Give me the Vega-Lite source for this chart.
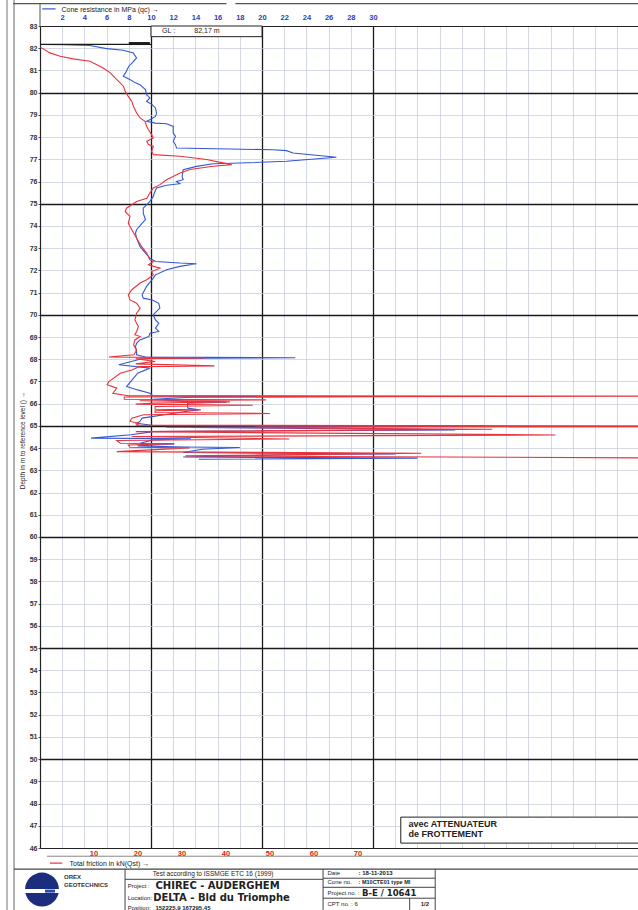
{
"$schema": "https://vega.github.io/schema/vega-lite/v6.json",
"usermeta": {"embedOptions": {"actions": false}},
"autosize": {"type": "none"},
"padding": {"left": 40, "top": 26, "right": 0, "bottom": 62},
"width": 598,
"height": 822,
"background": "white",
"config": {"view": {"stroke": null}, "font": "Liberation Sans",
"axis": {"labelOverlap": false},
"axisLeft": {"tickCount": 50, "labelOverlap": false},
"axisTop": {"tickCount": 40, "labelOverlap": false}},
"datasets": {
"cone": [
{"depth":82.17,"qc":0},{"depth":82.16,"qc":2},{"depth":82.12,"qc":4.5},{"depth":81.98,"qc":6},{"depth":81.91,"qc":7.5},{"depth":81.79,"qc":8.4},{"depth":81.56,"qc":8.7},{"depth":81.34,"qc":8.3},{"depth":81.19,"qc":8},{"depth":80.89,"qc":7.7},{"depth":80.74,"qc":7.5},{"depth":80.59,"qc":8.1},{"depth":80.44,"qc":8.6},{"depth":80.36,"qc":9},{"depth":80.14,"qc":9.5},{"depth":79.91,"qc":9.6},{"depth":79.76,"qc":9.9},{"depth":79.61,"qc":9.6},{"depth":79.46,"qc":10.1},{"depth":79.31,"qc":10.4},{"depth":79.08,"qc":10.5},{"depth":78.93,"qc":10.4},{"depth":78.78,"qc":9.9},{"depth":78.71,"qc":9.6},{"depth":78.63,"qc":10.4},{"depth":78.6,"qc":11.4},{"depth":78.48,"qc":12},{"depth":78.18,"qc":12},{"depth":78.03,"qc":12.2},{"depth":77.81,"qc":12},{"depth":77.66,"qc":12.2},{"depth":77.51,"qc":12.3},{"depth":77.43,"qc":21},{"depth":77.39,"qc":22.2},{"depth":77.28,"qc":22.8},{"depth":77.09,"qc":26.7},{"depth":76.91,"qc":22.2},{"depth":76.83,"qc":18},{"depth":76.8,"qc":15.6},{"depth":76.68,"qc":14.1},{"depth":76.53,"qc":12.9},{"depth":76.23,"qc":12.8},{"depth":76.08,"qc":12.9},{"depth":76.0,"qc":12.3},{"depth":75.9,"qc":12.6},{"depth":75.83,"qc":11.4},{"depth":75.71,"qc":10.5},{"depth":75.48,"qc":10.3},{"depth":75.33,"qc":10.2},{"depth":75.1,"qc":9.9},{"depth":74.95,"qc":9.6},{"depth":74.8,"qc":9.3},{"depth":74.58,"qc":9.3},{"depth":74.28,"qc":9.5},{"depth":74.13,"qc":9.2},{"depth":73.83,"qc":8.7},{"depth":73.68,"qc":8.6},{"depth":73.45,"qc":8.7},{"depth":73.08,"qc":9},{"depth":72.78,"qc":9.5},{"depth":72.55,"qc":9.9},{"depth":72.4,"qc":10.4},{"depth":72.33,"qc":12.6},{"depth":72.3,"qc":14.1},{"depth":72.18,"qc":12.6},{"depth":72.03,"qc":11.4},{"depth":71.8,"qc":10.4},{"depth":71.65,"qc":10.2},{"depth":71.58,"qc":10.1},{"depth":71.28,"qc":9.6},{"depth":70.9,"qc":9.2},{"depth":70.75,"qc":9.3},{"depth":70.67,"qc":10.1},{"depth":70.52,"qc":10.7},{"depth":70.3,"qc":10.8},{"depth":70.15,"qc":10.5},{"depth":70.0,"qc":10.2},{"depth":69.77,"qc":10.4},{"depth":69.62,"qc":10.7},{"depth":69.4,"qc":10.4},{"depth":69.25,"qc":10.7},{"depth":69.17,"qc":9.9},{"depth":69.02,"qc":9.8},{"depth":68.87,"qc":9},{"depth":68.72,"qc":8.7},{"depth":68.57,"qc":8.6},{"depth":68.35,"qc":8.7},{"depth":68.2,"qc":8.7},{"depth":68.1,"qc":9.5},{"depth":68.07,"qc":23},{"depth":68.04,"qc":10.2},{"depth":68.0,"qc":9},{"depth":67.75,"qc":7.1},{"depth":67.6,"qc":9.9},{"depth":67.37,"qc":8.8},{"depth":66.77,"qc":7.8},{"depth":66.62,"qc":8.8},{"depth":66.47,"qc":9.9},{"depth":66.35,"qc":10.2},{"depth":66.32,"qc":28.9},{"depth":66.29,"qc":13.6},{"depth":66.2,"qc":10.2},{"depth":66.1,"qc":13.3},{"depth":66.07,"qc":16.8},{"depth":66.02,"qc":13.3},{"depth":65.8,"qc":13.3},{"depth":65.72,"qc":14.3},{"depth":65.65,"qc":13.1},{"depth":65.35,"qc":9.2},{"depth":65.2,"qc":9},{"depth":65.12,"qc":8.7},{"depth":65.02,"qc":10.2},{"depth":64.99,"qc":40.1},{"depth":64.93,"qc":13.6},{"depth":64.82,"qc":37.4},{"depth":64.74,"qc":10.2},{"depth":64.6,"qc":8.2},{"depth":64.45,"qc":4.6},{"depth":64.42,"qc":13.6},{"depth":64.37,"qc":10.2},{"depth":64.22,"qc":9},{"depth":64.19,"qc":12.1},{"depth":64.1,"qc":8.8},{"depth":64.05,"qc":12.9},{"depth":64.03,"qc":18},{"depth":63.95,"qc":14.6},{"depth":63.8,"qc":12.9},{"depth":63.77,"qc":20.9},{"depth":63.74,"qc":32},{"depth":63.69,"qc":21.1},{"depth":63.6,"qc":12.9},{"depth":63.55,"qc":34},{"depth":63.5,"qc":14.3}
],
"friction": [
{"depth":82.05,"fr":-2.1},{"depth":81.79,"fr":0.1},{"depth":81.64,"fr":2.4},{"depth":81.52,"fr":5.4},{"depth":81.41,"fr":9.2},{"depth":81.11,"fr":12.2},{"depth":80.89,"fr":13.8},{"depth":80.59,"fr":15.3},{"depth":80.29,"fr":16.8},{"depth":80.06,"fr":17.2},{"depth":79.83,"fr":17.9},{"depth":79.61,"fr":18.7},{"depth":79.38,"fr":19.1},{"depth":79.08,"fr":19.8},{"depth":78.86,"fr":20.6},{"depth":78.71,"fr":21.7},{"depth":78.48,"fr":22.1},{"depth":78.33,"fr":22.5},{"depth":78.11,"fr":23.2},{"depth":77.96,"fr":23.6},{"depth":77.81,"fr":22.1},{"depth":77.66,"fr":22.5},{"depth":77.58,"fr":23.6},{"depth":77.36,"fr":23.2},{"depth":77.21,"fr":23.6},{"depth":77.14,"fr":29.7},{"depth":76.99,"fr":35.7},{"depth":76.86,"fr":38.8},{"depth":76.76,"fr":41.4},{"depth":76.69,"fr":37.2},{"depth":76.54,"fr":31.9},{"depth":76.38,"fr":29.7},{"depth":76.23,"fr":28.1},{"depth":76.08,"fr":26.6},{"depth":75.86,"fr":25.1},{"depth":75.71,"fr":23.6},{"depth":75.48,"fr":22.8},{"depth":75.25,"fr":22.1},{"depth":75.1,"fr":19.8},{"depth":74.8,"fr":17.5},{"depth":74.65,"fr":17.2},{"depth":74.43,"fr":18.3},{"depth":74.13,"fr":17.9},{"depth":73.83,"fr":18.7},{"depth":73.45,"fr":19.8},{"depth":73.08,"fr":20.9},{"depth":72.78,"fr":22.1},{"depth":72.48,"fr":22.8},{"depth":72.4,"fr":23.6},{"depth":72.25,"fr":22.5},{"depth":72.1,"fr":25.1},{"depth":71.95,"fr":23.2},{"depth":71.8,"fr":23.6},{"depth":71.58,"fr":22.1},{"depth":71.43,"fr":20.6},{"depth":71.13,"fr":18.7},{"depth":70.9,"fr":17.9},{"depth":70.67,"fr":18.3},{"depth":70.52,"fr":19.8},{"depth":70.3,"fr":20.6},{"depth":70.07,"fr":19.8},{"depth":69.77,"fr":19.4},{"depth":69.47,"fr":20.2},{"depth":69.25,"fr":19.8},{"depth":69.1,"fr":19.4},{"depth":69.02,"fr":20.6},{"depth":68.87,"fr":19.4},{"depth":68.65,"fr":19.1},{"depth":68.42,"fr":19.8},{"depth":68.2,"fr":19.2},{"depth":68.1,"fr":13.5},{"depth":68.06,"fr":35.3},{"depth":68.02,"fr":19.6},{"depth":67.9,"fr":24},{"depth":67.79,"fr":19.6},{"depth":67.7,"fr":37.5},{"depth":67.67,"fr":20.5},{"depth":67.52,"fr":18.7},{"depth":67.37,"fr":16.1},{"depth":66.99,"fr":13.5},{"depth":66.85,"fr":13.1},{"depth":66.7,"fr":15.3},{"depth":66.47,"fr":14.4},{"depth":66.36,"fr":17.9},{"depth":66.34,"fr":160},{"depth":66.3,"fr":17},{"depth":66.2,"fr":17},{"depth":66.17,"fr":49.2},{"depth":66.13,"fr":20.5},{"depth":66.08,"fr":41},{"depth":66.03,"fr":24},{"depth":65.98,"fr":19.6},{"depth":65.93,"fr":46.2},{"depth":65.87,"fr":24},{"depth":65.75,"fr":24},{"depth":65.72,"fr":34.4},{"depth":65.68,"fr":24},{"depth":65.6,"fr":24},{"depth":65.56,"fr":50.1},{"depth":65.5,"fr":21.4},{"depth":65.35,"fr":18.7},{"depth":65.2,"fr":18.3},{"depth":65.12,"fr":20.5},{"depth":65.03,"fr":19.6},{"depth":64.99,"fr":160},{"depth":64.94,"fr":26.6},{"depth":64.85,"fr":100.6},{"depth":64.74,"fr":19.6},{"depth":64.59,"fr":115},{"depth":64.52,"fr":18.7},{"depth":64.41,"fr":54.5},{"depth":64.34,"fr":15.3},{"depth":64.22,"fr":16.1},{"depth":64.2,"fr":28.3},{"depth":64.14,"fr":17.9},{"depth":64.04,"fr":18.3},{"depth":64.01,"fr":31.8},{"depth":63.84,"fr":15.3},{"depth":63.77,"fr":84.5},{"depth":63.65,"fr":30.9},{"depth":63.54,"fr":160}
]
},
"layer": [
{
"layer": [
{
"data": {"name": "cone"},
"mark": {"type": "line", "color": "#3358d4", "strokeWidth": 1.1, "clip": true},
"encoding": {
"x": {"field": "qc", "type": "quantitative", "scale": {"domain": [0, 53.87], "nice": false, "zero": false},
"axis": {"orient": "top", "values": [0,2,4,6,8,10,12,14,16,18,20,22,24,26,28,30,32,34,36,38,40,42,44,46,48,50,52], "tickCount": 40,
"labelExpr": "datum.value > 0 && datum.value <= 30 ? datum.label : ''",
"grid": true,
"gridColor": {"condition": {"test": "datum.value === 10 || datum.value === 20 || datum.value === 30", "value": "#1a1a1a"}, "value": "#c3c7da"},
"gridWidth": {"condition": {"test": "datum.value === 10 || datum.value === 20 || datum.value === 30", "value": 1.3}, "value": 0.7},
"ticks": false, "tickSize": 0, "domain": true, "domainColor": "#222", "domainWidth": 1.2,
"labelColor": "#2a3fb0", "labelFontSize": 7.5, "labelFontWeight": "bold", "labelPadding": 5, "labelOverlap": false, "labelFlush": false,
"title": "Cone resistance in MPa (qc)  \u2192", "titleFontSize": 7, "titleFontWeight": "normal", "titleColor": "#222",
"titleAlign": "left", "titleBaseline": "middle", "titleX": 21, "titleY": -17}},
"y": {"field": "depth", "type": "quantitative", "scale": {"domain": [46, 83], "nice": false, "zero": false},
"axis": {"orient": "left", "values": [46,47,48,49,50,51,52,53,54,55,56,57,58,59,60,61,62,63,64,65,66,67,68,69,70,71,72,73,74,75,76,77,78,79,80,81,82,83], "tickCount": 50,
"format": "d", "grid": true,
"gridColor": {"condition": {"test": "datum.value % 5 === 0", "value": "#1a1a1a"}, "value": "#c3c7da"},
"gridWidth": {"condition": {"test": "datum.value % 5 === 0", "value": 1.3}, "value": 0.7},
"ticks": true, "tickSize": 2, "tickColor": "#555", "domain": true, "domainColor": "#222", "domainWidth": 1.2,
"labelColor": "#333", "labelFontSize": 7, "labelFontWeight": "bold", "labelPadding": 1, "labelOverlap": false,
"title": "Depth in m to reference level ()   \u2192", "titleFontSize": 6.5, "titleFontWeight": "normal", "titleColor": "#222",
"titleAngle": -90, "titleAlign": "center", "titleBaseline": "middle", "titleX": -18, "titleY": 414}},
"order": {"field": "depth", "sort": "descending"}
}
},
{"data": {"values": [{}]}, "mark": {"type": "rect", "fill": "white", "stroke": "#222", "strokeWidth": 1},
"encoding": {"x": {"datum": 10, "type": "quantitative"}, "x2": {"datum": 20}, "y": {"datum": 83, "type": "quantitative"}, "y2": {"datum": 82.52}}},
{"data": {"values": [{}]}, "mark": {"type": "text", "text": "GL :", "align": "left", "baseline": "middle", "fontSize": 7, "color": "#222"},
"encoding": {"x": {"datum": 11.0, "type": "quantitative"}, "y": {"datum": 82.76, "type": "quantitative"}}},
{"data": {"values": [{}]}, "mark": {"type": "text", "text": "82,17   m", "align": "left", "baseline": "middle", "fontSize": 7, "color": "#222"},
"encoding": {"x": {"datum": 13.9, "type": "quantitative"}, "y": {"datum": 82.76, "type": "quantitative"}}},
{"data": {"values": [{}]}, "mark": {"type": "rule", "color": "#1a1a1a", "strokeWidth": 1.3},
"encoding": {"x": {"datum": 0, "type": "quantitative"}, "x2": {"datum": 10}, "y": {"datum": 82.17, "type": "quantitative"}}},
{"data": {"values": [{}]}, "mark": {"type": "rule", "color": "#1a1a1a", "strokeWidth": 3},
"encoding": {"x": {"datum": 8.0, "type": "quantitative"}, "x2": {"datum": 9.9}, "y": {"datum": 82.21, "type": "quantitative"}}},
{"data": {"values": [{}]}, "mark": {"type": "rect", "fill": "white", "stroke": "#222", "strokeWidth": 1},
"encoding": {"x": {"datum": 32.5, "type": "quantitative"}, "x2": {"datum": 56}, "y": {"datum": 47.39, "type": "quantitative"}, "y2": {"datum": 46.22}}},
{"data": {"values": [{}]}, "mark": {"type": "text", "text": "avec ATTENUATEUR", "align": "left", "baseline": "middle", "fontSize": 9, "fontWeight": "bold", "color": "#222"},
"encoding": {"x": {"datum": 33.2, "type": "quantitative"}, "y": {"datum": 47.07, "type": "quantitative"}}},
{"data": {"values": [{}]}, "mark": {"type": "text", "text": "de FROTTEMENT", "align": "left", "baseline": "middle", "fontSize": 9, "fontWeight": "bold", "color": "#222"},
"encoding": {"x": {"datum": 33.2, "type": "quantitative"}, "y": {"datum": 46.61, "type": "quantitative"}}},
{"data": {"values": [{}]}, "mark": {"type": "rule", "color": "#3358d4", "strokeWidth": 1.2},
"encoding": {"x": {"datum": 0.2, "type": "quantitative"}, "x2": {"datum": 1.4}, "y": {"datum": 83.77, "type": "quantitative"}}},
{"data": {"values": [{}]}, "mark": {"type": "rule", "color": "#e8323c", "strokeWidth": 1.2},
"encoding": {"x": {"datum": 0.9, "type": "quantitative"}, "x2": {"datum": 2.0}, "y": {"datum": 45.32, "type": "quantitative"}}},
{"data": {"values": [{}]}, "mark": {"type": "rule", "color": "#888", "strokeWidth": 1},
"encoding": {"x": {"datum": 0.63, "type": "quantitative"}, "x2": {"datum": 53.87}, "y": {"datum": 45.63, "type": "quantitative"}}},
{"data": {"values": [{}]}, "mark": {"type": "rule", "color": "#555", "strokeWidth": 1},
"encoding": {"x": {"datum": 0, "type": "quantitative"}, "y": {"datum": 84.01, "type": "quantitative"}, "y2": {"datum": 83}}},
{"data": {"values": [{}]}, "mark": {"type": "rule", "color": "#555", "strokeWidth": 1.2},
"encoding": {"x": {"datum": -2.43, "type": "quantitative"}, "x2": {"datum": 16.8}, "y": {"datum": 84.01, "type": "quantitative"}}},
{"data": {"values": [{}]}, "mark": {"type": "rule", "color": "#555", "strokeWidth": 1.2},
"encoding": {"x": {"datum": 17.6, "type": "quantitative"}, "x2": {"datum": 53.87}, "y": {"datum": 84.01, "type": "quantitative"}}},
{"data": {"values": [{}]}, "mark": {"type": "rule", "color": "#777", "strokeWidth": 1},
"encoding": {"x": {"datum": -2.97, "type": "quantitative"}, "y": {"datum": 84.19, "type": "quantitative"}, "y2": {"datum": 43.2}}},
{"data": {"values": [{}]}, "mark": {"type": "rule", "color": "#666", "strokeWidth": 1},
"encoding": {"x": {"datum": -2.34, "type": "quantitative"}, "y": {"datum": 84.19, "type": "quantitative"}, "y2": {"datum": 43.2}}},
{"data": {"values": [{}]}, "mark": {"type": "rule", "color": "#444", "strokeWidth": 1.2},
"encoding": {"x": {"datum": -2.34, "type": "quantitative"}, "x2": {"datum": 53.87}, "y": {"datum": 45.05, "type": "quantitative"}}},
{"data": {"values": [{}]}, "mark": {"type": "rule", "color": "#444", "strokeWidth": 1},
"encoding": {"x": {"datum": 7.66, "type": "quantitative"}, "y": {"datum": 45.05, "type": "quantitative"}, "y2": {"datum": 43.2}}},
{"data": {"values": [{}]}, "mark": {"type": "rule", "color": "#444", "strokeWidth": 1},
"encoding": {"x": {"datum": 7.66, "type": "quantitative"}, "x2": {"datum": 25.5}, "y": {"datum": 44.59, "type": "quantitative"}}},
{"data": {"values": [{}]}, "mark": {"type": "rule", "color": "#444", "strokeWidth": 1},
"encoding": {"x": {"datum": 25.5, "type": "quantitative"}, "y": {"datum": 45.05, "type": "quantitative"}, "y2": {"datum": 43.2}}},
{"data": {"values": [{}]}, "mark": {"type": "rule", "color": "#444", "strokeWidth": 1},
"encoding": {"x": {"datum": 35.6, "type": "quantitative"}, "y": {"datum": 45.05, "type": "quantitative"}, "y2": {"datum": 43.2}}},
{"data": {"values": [{}]}, "mark": {"type": "rule", "color": "#444", "strokeWidth": 1},
"encoding": {"x": {"datum": 25.5, "type": "quantitative"}, "x2": {"datum": 35.6}, "y": {"datum": 44.64, "type": "quantitative"}}},
{"data": {"values": [{}]}, "mark": {"type": "rule", "color": "#444", "strokeWidth": 1},
"encoding": {"x": {"datum": 25.5, "type": "quantitative"}, "x2": {"datum": 35.6}, "y": {"datum": 44.23, "type": "quantitative"}}},
{"data": {"values": [{}]}, "mark": {"type": "rule", "color": "#444", "strokeWidth": 1},
"encoding": {"x": {"datum": 25.5, "type": "quantitative"}, "x2": {"datum": 35.6}, "y": {"datum": 43.74, "type": "quantitative"}}},
{"data": {"values": [{}]}, "mark": {"type": "rule", "color": "#444", "strokeWidth": 1},
"encoding": {"x": {"datum": 33.3, "type": "quantitative"}, "y": {"datum": 43.74, "type": "quantitative"}, "y2": {"datum": 43.2}}},
{"data": {"values": [{}]}, "mark": {"type": "point", "shape": "circle", "filled": true, "size": 1150, "color": "#1c2d7e", "opacity": 1},
"encoding": {"x": {"datum": 0.18, "type": "quantitative"}, "y": {"datum": 44.13, "type": "quantitative"}}},
{"data": {"values": [{}]}, "mark": {"type": "rule", "color": "white", "strokeWidth": 4},
"encoding": {"x": {"datum": -1.6, "type": "quantitative"}, "x2": {"datum": 1.95}, "y": {"datum": 44.06, "type": "quantitative"}}},
{"data": {"values": [{}]}, "mark": {"type": "rule", "color": "#2a48b0", "strokeWidth": 3},
"encoding": {"x": {"datum": 0.45, "type": "quantitative"}, "x2": {"datum": 1.35}, "y": {"datum": 44.06, "type": "quantitative"}}},
{"data": {"values": [{}]}, "mark": {"type": "text", "text": "OREX", "align": "left", "baseline": "middle", "fontSize": 6, "fontWeight": "bold", "color": "#333"},
"encoding": {"x": {"datum": 2.16, "type": "quantitative"}, "y": {"datum": 44.68, "type": "quantitative"}}},
{"data": {"values": [{}]}, "mark": {"type": "text", "text": "GEOTECHNICS", "align": "left", "baseline": "middle", "fontSize": 6, "fontWeight": "bold", "color": "#333"},
"encoding": {"x": {"datum": 2.16, "type": "quantitative"}, "y": {"datum": 44.32, "type": "quantitative"}}},
{"data": {"values": [{}]}, "mark": {"type": "text", "text": "Test according to ISSMGE ETC 16 (1999)", "align": "center", "baseline": "middle", "fontSize": 6.5, "color": "#222"},
"encoding": {"x": {"datum": 15.6, "type": "quantitative"}, "y": {"datum": 44.85, "type": "quantitative"}}},
{"data": {"values": [{}]}, "mark": {"type": "text", "text": "Project :", "align": "left", "baseline": "middle", "fontSize": 6, "color": "#222"},
"encoding": {"x": {"datum": 7.9, "type": "quantitative"}, "y": {"datum": 44.28, "type": "quantitative"}}},
{"data": {"values": [{}]}, "mark": {"type": "text", "text": "CHIREC  -  AUDERGHEM", "align": "left", "baseline": "middle", "fontSize": 10, "fontWeight": "bold", "font": "DejaVu Sans", "color": "#222"},
"encoding": {"x": {"datum": 10.4, "type": "quantitative"}, "y": {"datum": 44.28, "type": "quantitative"}}},
{"data": {"values": [{}]}, "mark": {"type": "text", "text": "Location:", "align": "left", "baseline": "middle", "fontSize": 6, "color": "#222"},
"encoding": {"x": {"datum": 7.9, "type": "quantitative"}, "y": {"datum": 43.77, "type": "quantitative"}}},
{"data": {"values": [{}]}, "mark": {"type": "text", "text": "DELTA  -  Bld du Triomphe", "align": "left", "baseline": "middle", "fontSize": 10, "fontWeight": "bold", "font": "DejaVu Sans", "color": "#222"},
"encoding": {"x": {"datum": 10.2, "type": "quantitative"}, "y": {"datum": 43.74, "type": "quantitative"}}},
{"data": {"values": [{}]}, "mark": {"type": "text", "text": "Position:", "align": "left", "baseline": "middle", "fontSize": 6, "color": "#222"},
"encoding": {"x": {"datum": 7.9, "type": "quantitative"}, "y": {"datum": 43.32, "type": "quantitative"}}},
{"data": {"values": [{}]}, "mark": {"type": "text", "text": "152225,9  167295,45", "align": "left", "baseline": "middle", "fontSize": 6, "fontWeight": "bold", "color": "#222"},
"encoding": {"x": {"datum": 10.4, "type": "quantitative"}, "y": {"datum": 43.31, "type": "quantitative"}}},
{"data": {"values": [{}]}, "mark": {"type": "text", "text": "Date", "align": "left", "baseline": "middle", "fontSize": 6, "color": "#222"},
"encoding": {"x": {"datum": 25.9, "type": "quantitative"}, "y": {"datum": 44.86, "type": "quantitative"}}},
{"data": {"values": [{}]}, "mark": {"type": "text", "text": ": 18-11-2013", "align": "left", "baseline": "middle", "fontSize": 6, "fontWeight": "bold", "color": "#222"},
"encoding": {"x": {"datum": 28.7, "type": "quantitative"}, "y": {"datum": 44.86, "type": "quantitative"}}},
{"data": {"values": [{}]}, "mark": {"type": "text", "text": "Cone no.", "align": "left", "baseline": "middle", "fontSize": 6, "color": "#222"},
"encoding": {"x": {"datum": 25.9, "type": "quantitative"}, "y": {"datum": 44.45, "type": "quantitative"}}},
{"data": {"values": [{}]}, "mark": {"type": "text", "text": ": M10CTE01 type MI", "align": "left", "baseline": "middle", "fontSize": 5.5, "fontWeight": "bold", "color": "#222"},
"encoding": {"x": {"datum": 28.7, "type": "quantitative"}, "y": {"datum": 44.45, "type": "quantitative"}}},
{"data": {"values": [{}]}, "mark": {"type": "text", "text": "Project no. :", "align": "left", "baseline": "middle", "fontSize": 6, "color": "#222"},
"encoding": {"x": {"datum": 25.9, "type": "quantitative"}, "y": {"datum": 43.99, "type": "quantitative"}}},
{"data": {"values": [{}]}, "mark": {"type": "text", "text": "B-E / 10641", "align": "left", "baseline": "middle", "fontSize": 8.5, "fontWeight": "bold", "font": "DejaVu Sans", "color": "#222"},
"encoding": {"x": {"datum": 29.0, "type": "quantitative"}, "y": {"datum": 43.99, "type": "quantitative"}}},
{"data": {"values": [{}]}, "mark": {"type": "text", "text": "CPT no.    : 6", "align": "left", "baseline": "middle", "fontSize": 6, "color": "#222"},
"encoding": {"x": {"datum": 25.9, "type": "quantitative"}, "y": {"datum": 43.47, "type": "quantitative"}}},
{"data": {"values": [{}]}, "mark": {"type": "text", "text": "1/2", "align": "left", "baseline": "middle", "fontSize": 6, "fontWeight": "bold", "color": "#222"},
"encoding": {"x": {"datum": 34.3, "type": "quantitative"}, "y": {"datum": 43.47, "type": "quantitative"}}}
]
},
{
"data": {"name": "friction"},
"mark": {"type": "line", "color": "#e8323c", "strokeWidth": 1.1, "clip": true},
"encoding": {
"x": {"field": "fr", "type": "quantitative", "scale": {"domain": [-2.16, 133.75], "nice": false, "zero": false},
"axis": {"orient": "bottom", "values": [10,20,30,40,50,60,70], "grid": false, "ticks": false, "tickSize": 0,
"domain": true, "domainColor": "#222", "domainWidth": 1.2,
"labelColor": "#e02020", "labelFontSize": 7.5, "labelFontWeight": "bold", "labelPadding": 1, "labelFlush": false, "labelOverlap": false,
"title": "Total friction in kN(Qst)  \u2192", "titleFontSize": 7, "titleFontWeight": "normal", "titleColor": "#222",
"titleAlign": "left", "titleBaseline": "middle", "titleX": 29, "titleY": 15}},
"y": {"field": "depth", "type": "quantitative", "scale": {"domain": [46, 83], "nice": false, "zero": false}, "axis": null},
"order": {"field": "depth", "sort": "descending"}
}
}
],
"resolve": {"scale": {"x": "independent", "y": "independent"}, "axis": {"x": "independent", "y": "independent"}}
}
